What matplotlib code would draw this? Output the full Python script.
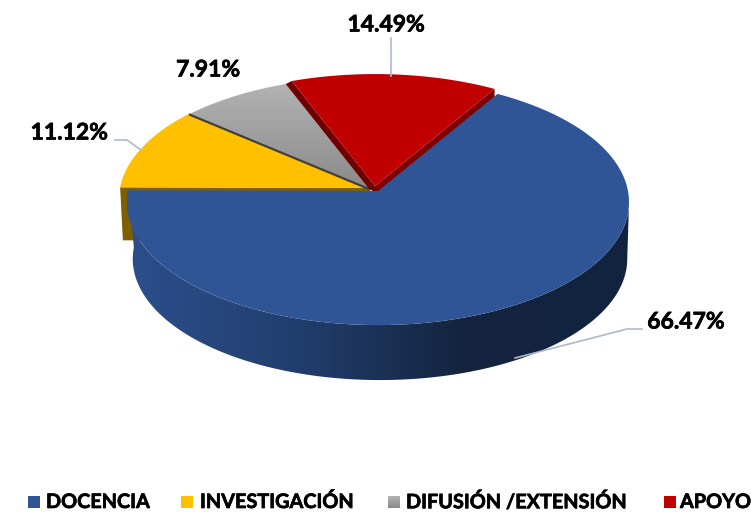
import numpy as np
import matplotlib
matplotlib.use("Agg")
import matplotlib.pyplot as plt
import matplotlib.patheffects as pe
from matplotlib.colors import LinearSegmentedColormap
from matplotlib.patches import Polygon, Rectangle

categories = ["DOCENCIA", "INVESTIGACIÓN", "DIFUSIÓN /EXTENSIÓN", "APOYO"]
shares = [66.47, 11.12, 7.91, 14.49]
labels = ["66.47%", "11.12%", "7.91%", "14.49%"]

plt.rcParams["font.family"] = ["Lato", "DejaVu Sans"]

# pie geometry in pixels
X0, Y0 = 378, 191
A, B, K = 250, 122, 0.09
DEPTH = 57
SCALE_LOW = 0.985
START = -59

# how far each slice is pulled out
offsets = [(0, 0), (-8, -3), (-9, -2), (-3, -5)]


def rim(theta, off=(0, 0), low=False):
    t = np.radians(theta)
    u, v = np.cos(t), np.sin(t)
    w = 1 - K * v
    s = SCALE_LOW if low else 1.0
    dx = 2 if low else 0
    dy = DEPTH if low else 0
    return np.column_stack([X0 + off[0] + dx + s * A * u / w,
                            Y0 + off[1] + dy + s * B * v / w])


def apex(off=(0, 0)):
    return np.array([[X0 + off[0], Y0 + off[1]]])


def slice_pts(t1, t2, off=(0, 0)):
    return np.vstack([apex(off), rim(np.linspace(t1, t2, 120), off)])


def gradient(ax, patch, colors, extent, vertical=False):
    cmap = LinearSegmentedColormap.from_list("g", colors)
    g = np.linspace(0, 1, 256)
    g = g[:, None] if vertical else g[None, :]
    im = ax.imshow(g, cmap=cmap, extent=extent, aspect="auto", zorder=patch.get_zorder())
    ax.add_patch(patch)
    patch.set_facecolor("none")
    patch.set_edgecolor("none")
    im.set_clip_path(patch)


fig = plt.figure(figsize=(7.51, 5.12), dpi=100)
ax = fig.add_axes([0, 0, 1, 1])

angles = START + np.concatenate([[0], np.cumsum(shares)]) * 360 / sum(shares)
blue = (angles[0], angles[1], offsets[0])
yellow = (angles[1], angles[2], offsets[1])
grey = (angles[2], angles[3], offsets[2])
red = (angles[3], angles[4], offsets[3])

# yellow cut face
p1 = apex(yellow[2])
p2 = rim(np.array([yellow[0]]), yellow[2])
p3 = rim(np.array([yellow[0]]), yellow[2], low=True)
ax.add_patch(Polygon(np.vstack([p1, p2, p3 + [-3, -4], p3 + [250, -4]]), fc="#7f6000", ec="none", zorder=1))
ax.add_patch(Polygon(slice_pts(*yellow[:2], yellow[2]), fc="#ffc000", ec="none", zorder=2))

# grey slice
gp = Polygon(slice_pts(*grey[:2], grey[2]), zorder=3)
gradient(ax, gp, ["#b4b4b4", "#8a8a8a"], (180, 380, 190, 80), vertical=True)
e = np.vstack([apex(grey[2]), rim(np.array([grey[0]]), grey[2])])
ax.plot(e[:, 0], e[:, 1], color="#404040", lw=1.6, zorder=3.5, solid_capstyle="butt")

# red slice with dark cut faces
r0 = rim(np.array([red[0]]), red[2])
r1 = rim(np.array([red[1]]), red[2])
g1 = rim(np.array([grey[1]]), grey[2])
ax.add_patch(Polygon(np.vstack([apex(red[2]), r1, r1 + [0, DEPTH], apex(red[2]) + [0, DEPTH]]),
                     fc="#7e0000", ec="none", zorder=4))
# dark strip closes the gap between grey and red
ax.add_patch(Polygon(np.vstack([apex(grey[2]), g1, r0, apex(red[2]), apex(red[2]) + [0, 6]]),
                     fc="#6e0000", ec="none", zorder=4))
ax.add_patch(Polygon(slice_pts(*red[:2], red[2]), fc="#c00000", ec="none", zorder=5))

# blue side wall, lighter on the left and dark to the right
th = np.linspace(5.2, angles[1], 300)
wall = Polygon(np.vstack([rim(th), rim(th[::-1], low=True)]), zorder=6)
gradient(ax, wall, ["#2c4f8c", "#223e6e", "#14243f", "#12233f"], (125, 635, 400, 180))

# blue top
ax.add_patch(Polygon(slice_pts(*blue[:2], blue[2]), fc="#2f5597", ec="none", zorder=7))

# leader lines
leader_x = [[515, 627, 642], [391, 391], [115, 127, 141], []]
leader_y = [[358, 329, 329], [38, 76], [140, 140, 150], []]
for lx, ly in zip(leader_x, leader_y):
    ax.plot(lx, ly, color="#adb9ca", lw=1.2, zorder=8)

# calibri bold is heavier than lato bold, so thicken it a little
heavy = [pe.withStroke(linewidth=0.5, foreground="black")]

# value labels
label_x = [686, 69, 208, 386]
label_y = [322, 133, 70, 25]
for t, x, y in zip(labels, label_x, label_y):
    ax.text(x, y, t, fontsize=16.5, fontweight="bold", color="black",
            ha="center", va="center", zorder=9, path_effects=heavy)

# legend
swatch_x = [28, 181, 388, 664]
text_x = [46, 200, 406, 680]
swatch_col = ["#2f5597", "#ffc000", None, "#c00000"]
for name, sx, tx, c in zip(categories, swatch_x, text_x, swatch_col):
    if c is None:
        sw = Rectangle((sx, 496), 12, 12, zorder=3)
        gradient(ax, sw, ["#b4b4b4", "#8a8a8a"], (sx, sx + 12, 508, 496), vertical=True)
    else:
        ax.add_patch(Rectangle((sx, 496), 12, 12, fc=c, ec="none"))
    ax.text(tx, 502, name, fontsize=14.3, fontweight="bold", color="black",
            ha="left", va="center", path_effects=heavy)

ax.set_xlim(0, 751)
ax.set_ylim(512, 0)
ax.axis("off")
fig.savefig("out.png", dpi=100, facecolor="white")
